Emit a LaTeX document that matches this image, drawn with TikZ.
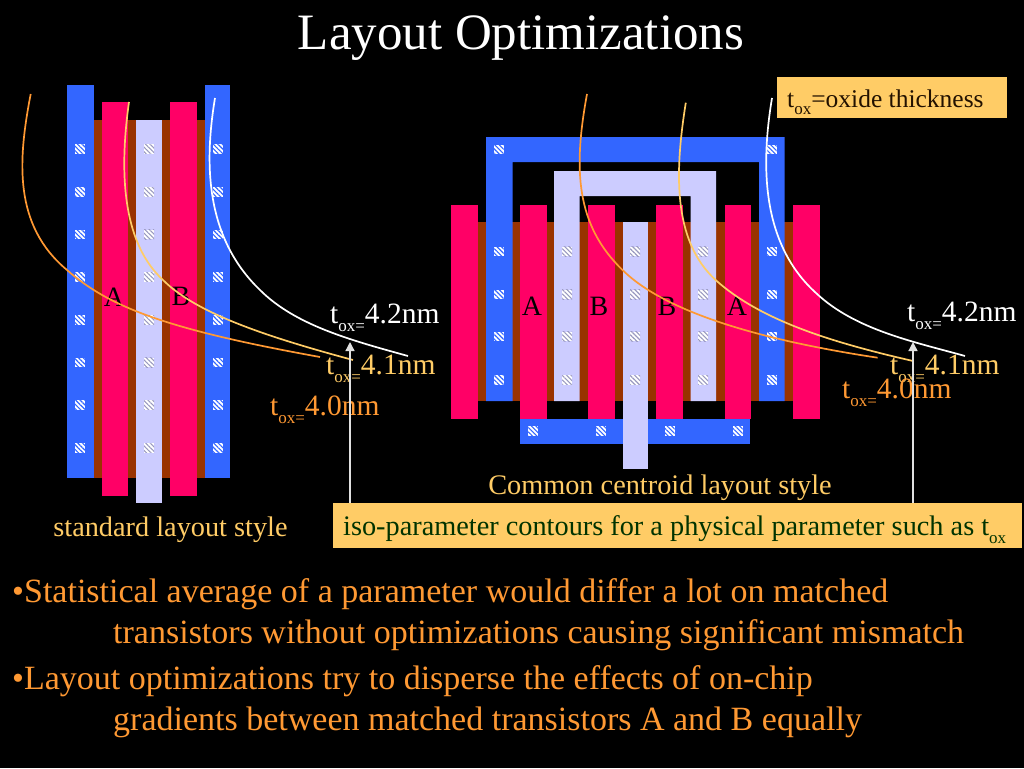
\documentclass[tikz,border=0pt]{standalone}
\usepackage{fontspec}
\setmainfont{Liberation Serif}
\usetikzlibrary{patterns.meta,arrows.meta}
\definecolor{polypink}{HTML}{FF0066}
\definecolor{metalblue}{HTML}{3366FF}
\definecolor{diffbrown}{HTML}{993300}
\definecolor{gatelav}{HTML}{CCCCFF}
\definecolor{notegold}{HTML}{FFCC66}
\definecolor{curveorange}{HTML}{FF9933}
\definecolor{notegreen}{HTML}{003300}
\definecolor{noteink}{HTML}{221100}
\newcommand{\oxsub}[1]{\raisebox{-0.28em}{\fontsize{17}{17}\selectfont #1}}
\newcommand{\toxlabel}[1]{t\oxsub{ox=}#1}
\tikzset{
    contact/.style={rectangle,minimum width=10pt,minimum height=9.5pt,inner sep=0pt,fill=white,
        postaction={pattern={Lines[angle=-45,distance=3.2pt,line width=1.1pt]},pattern color=#1}},
    devlabel/.style={inner sep=0pt,font=\fontsize{28}{30}\selectfont,text=black},
    toxtext/.style={anchor=west,inner sep=0pt,font=\fontsize{29.5}{31}\selectfont},
    captext/.style={inner sep=0pt,font=\fontsize{28.3}{30}\selectfont,text=notegold},
    bodytext/.style={anchor=west,inner sep=0pt,font=\fontsize{34}{36}\selectfont,text=curveorange},
    notebox/.style={fill=notegold,anchor=west,inner sep=0pt},
    isoline/.style={line width=1.7pt},
    pointer/.style={draw=white!88!black,line width=1.3pt,-{Triangle[length=9pt,width=9pt]}},
}
\begin{document}
\begin{tikzpicture}[x=1pt,y=-1pt]
    \fill[black] (0,0) rectangle (1024,768);
    \useasboundingbox (0,0) rectangle (1024,768);
    % standard layout
    \fill[diffbrown] (94,119.5) rectangle (205,478);
    \fill[metalblue] (67,85) rectangle (94,478);
    \fill[metalblue] (205,85) rectangle (230,478);
    \fill[polypink] (102,102) rectangle (128,496);
    \fill[polypink] (170,102) rectangle (197,496);
    \fill[gatelav] (136,119.5) rectangle (162,503);
    \foreach \y in {149,192,234.5,277,320,362.5,405,448} {
        \node[contact=metalblue] at (80,\y) {};
        \node[contact=gatelav!75!black] at (149,\y) {};
        \node[contact=metalblue] at (218,\y) {};
    }
    \node[devlabel] (stdA) at (114,297) {A};
    \node[devlabel] (stdB) at (181,296) {B};
    % common centroid layout
    \fill[diffbrown] (478,222) rectangle (793,401);
    \foreach \x in {451,520,588,656,724.5,793} {
        \fill[polypink] (\x,205) rectangle ++(26.5,214);
    }
    \fill[metalblue] (486,401) -- (486,137) -- (784.5,137) -- (784.5,401)
        -- (759,401) -- (759,162) -- (512.5,162) -- (512.5,401) -- cycle;
    \fill[gatelav] (554,401) -- (554,171) -- (716,171) -- (716,401)
        -- (690.5,401) -- (690.5,196) -- (579.5,196) -- (579.5,401) -- cycle;
    \fill[metalblue] (520,419) rectangle (750,444);
    \fill[gatelav] (622.5,222) rectangle (648,469);
    \foreach \y in {251.5,294.5,336.5,380} {
        \node[contact=metalblue] at (498.5,\y) {};
        \node[contact=gatelav!75!black] at (567,\y) {};
        \node[contact=gatelav!75!black] at (635,\y) {};
        \node[contact=gatelav!75!black] at (703,\y) {};
        \node[contact=metalblue] at (771.5,\y) {};
    }
    \node[contact=metalblue] at (498.5,149.5) {};
    \node[contact=metalblue] at (771.5,149.5) {};
    \foreach \x in {533,601,669.5,737.5} {
        \node[contact=metalblue] at (\x,431) {};
    }
    \node[devlabel] (ccA) at (532,306) {A};
    \node[devlabel] (ccB) at (599,306) {B};
    \node[devlabel] (ccC) at (667,306) {B};
    \node[devlabel] (ccD) at (737,306) {A};
    % iso-parameter contours
    \draw[isoline,curveorange] (30.7,94) .. controls (18,160) and (13,225) .. (67,270) .. controls (110,308) and (170,330) .. (320,357);
    \draw[isoline,notegold] (129,102) .. controls (118,180) and (125,245) .. (163,280) .. controls (195,312) and (260,335) .. (353,360);
    \draw[isoline,white] (215,98) .. controls (203,170) and (208,240) .. (260,290) .. controls (295,325) and (350,340) .. (408,356);
    \draw[isoline,curveorange] (587,94) .. controls (573,170) and (576,225) .. (622.5,270) .. controls (665,312) and (760,340) .. (877.6,357.7);
    \draw[isoline,notegold] (685.8,102.7) .. controls (675,170) and (672,240) .. (715.6,280) .. controls (760,320) and (830,342) .. (913,361);
    \draw[isoline,white] (772,98) .. controls (760,170) and (763,245) .. (816,293) .. controls (855,330) and (915,342) .. (965,356);
    % labels
    \node[toxtext,text=white] (stdhi) at (330,318) {\toxlabel{4.2nm}};
    \node[toxtext,text=notegold] (stdmid) at (326,369) {\toxlabel{4.1nm}};
    \node[toxtext,text=curveorange] (stdlo) at (270,410) {\toxlabel{4.0nm}};
    \node[toxtext,text=white] (cchi) at (907,316) {\toxlabel{4.2nm}};
    \node[toxtext,text=notegold] (ccmid) at (890,369) {\toxlabel{4.1nm}};
    \node[toxtext,text=curveorange] (cclo) at (842,393) {\toxlabel{4.0nm}};
    \node[captext] (stdcap) at (170.5,530) {standard layout style};
    \node[captext] (cccap) at (660,488) {Common centroid layout style};
    \node[notebox,minimum width=230pt,minimum height=41pt] (oxnote) at (777,97.5) {};
    \node[anchor=west,inner sep=0pt,text=noteink,font=\fontsize{25.5}{27}\selectfont] (oxtext) at (787,102) {t\oxsub{ox}=oxide thickness};
    \node[notebox,minimum width=689pt,minimum height=45pt] (isonote) at (333,525.5) {};
    \node[anchor=west,inner sep=0pt,text=notegreen,font=\fontsize{28.3}{30}\selectfont] (isotext) at (343,530) {iso-parameter contours for a physical parameter such as t\oxsub{ox}};
    \coordinate (stdtip) at (350,342);
    \coordinate (cctip) at (913,342);
    \draw[pointer] (stdtip |- isonote.north) -- (stdtip);
    \draw[pointer] (cctip |- isonote.north) -- (cctip);
    % title and bullets
    \node[inner sep=0pt,text=white,font=\fontsize{51}{54}\selectfont] (title) at (521,38) {Layout Optimizations};
    \node[bodytext] (lineone) at (12,594.5) {•Statistical average of a parameter would differ a lot on matched};
    \node[bodytext] (linetwo) at (113,635.5) {transistors without optimizations causing significant mismatch};
    \node[bodytext] (linethree) at (12,681.5) {•Layout optimizations try to disperse the effects of on-chip};
    \node[bodytext] (linefour) at (113,722.5) {gradients between matched transistors A and B equally};
\end{tikzpicture}
\end{document}
